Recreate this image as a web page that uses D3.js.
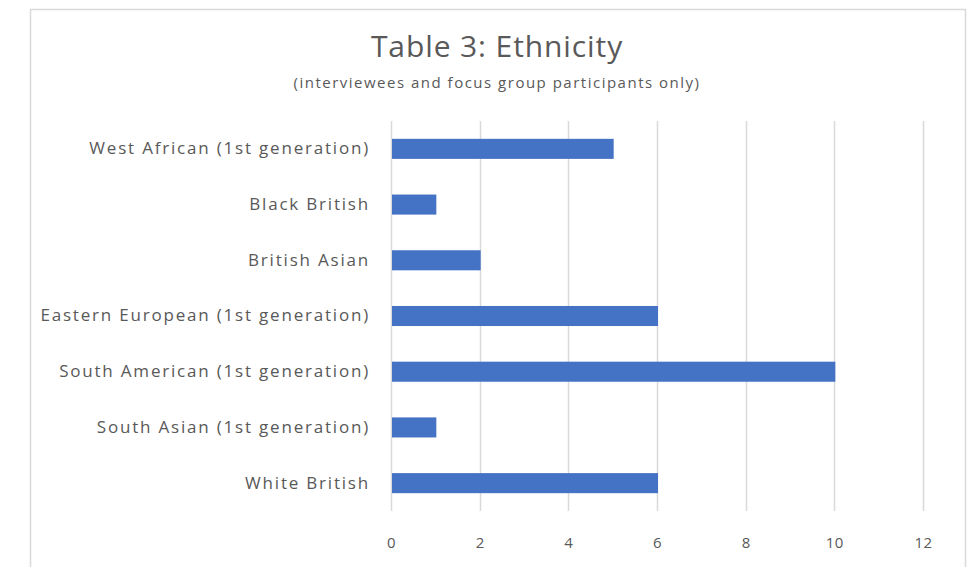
<!DOCTYPE html>
<html>
<head>
<meta charset="utf-8">
<script src="https://cdn.jsdelivr.net/npm/d3@7"></script>
<style>
	body { margin: 0; background: #fff; }
	.axis path, .axis line { display: none; }
</style>
</head>
<body>
<div class="bar-chart"></div>
<script>
// Data.
var categories = [
	'West African (1st generation)',
	'Black British',
	'British Asian',
	'Eastern European (1st generation)',
	'South American (1st generation)',
	'South Asian (1st generation)',
	'White British'
];
var counts = [5, 1, 2, 6, 10, 1, 6];
var xTicks = [0, 2, 4, 6, 8, 10, 12];

var textColor = '#595959',
	barColor = '#4472c4',
	gridColor = '#d9d9d9',
	fontFamily = '"Open Sans", Lato, sans-serif';

var margin = {top: 121, left: 391, bottom: 56, right: 53};
var totalWidth = 976, totalHeight = 567;
var width = totalWidth - margin.left - margin.right;
var height = totalHeight - margin.top - margin.bottom;

var svg = d3.select('.bar-chart').append('svg')
	.attr('width', totalWidth)
	.attr('height', totalHeight)
	.attr('font-family', fontFamily)
	.attr('fill', textColor);

// Chart frame (bottom edge falls outside the picture).
svg.append('rect')
	.attr('x', 30.5)
	.attr('y', 9.5)
	.attr('width', 935)
	.attr('height', 580)
	.attr('fill', '#fff')
	.attr('stroke', gridColor)
	.attr('stroke-width', 1.5);

svg.append('text')
	.attr('x', 497)
	.attr('y', 57)
	.attr('text-anchor', 'middle')
	.attr('font-size', '30px')
	.attr('letter-spacing', '0.9px')
	.attr('fill', textColor)
	.text('Table 3: Ethnicity');

svg.append('text')
	.attr('x', 497)
	.attr('y', 88)
	.attr('text-anchor', 'middle')
	.attr('font-size', '15px')
	.attr('letter-spacing', '1.5px')
	.attr('fill', textColor)
	.text('(interviewees and focus group participants only)');

var g = svg.append('g')
	.attr('transform', 'translate(' + margin.left + ',' + margin.top + ')');

var x = d3.scaleLinear().domain([0, 12]).range([0, width]);
var y = d3.scaleBand().domain(categories).range([0, height]).paddingInner(0.64).paddingOuter(0.32);

// Vertical gridlines, including the one at 0 that doubles as the axis line.
g.selectAll('.grid')
	.data(xTicks)
	.enter().append('line')
	.attr('class', 'grid')
	.attr('x1', function(d) { return Math.round(x(d)) + 0.5; })
	.attr('x2', function(d) { return Math.round(x(d)) + 0.5; })
	.attr('y1', 0)
	.attr('y2', height)
	.attr('stroke', gridColor)
	.attr('stroke-width', 1.5);

g.selectAll('.bar')
	.data(categories)
	.enter().append('rect')
	.attr('class', 'bar')
	.attr('x', x(0) + 1)
	.attr('y', function(d) { return y(d); })
	.attr('width', function(d, i) { return x(counts[i]) - x(0); })
	.attr('height', y.bandwidth())
	.attr('fill', barColor);

g.append('g')
	.attr('class', 'axis')
	.attr('transform', 'translate(0,' + (height + 18) + ')')
	.call(d3.axisBottom(x).tickValues(xTicks).tickSize(0).tickPadding(8))
	.selectAll('text')
		.attr('font-family', fontFamily)
		.attr('font-size', '15px')
		.attr('letter-spacing', '0.5px')
		.attr('fill', textColor);

g.append('g')
	.attr('class', 'axis')
	.call(d3.axisLeft(y).tickSize(0).tickPadding(21))
	.selectAll('text')
		.attr('font-family', fontFamily)
		.attr('font-size', '17px')
		.attr('letter-spacing', '1.8px')
		.attr('fill', textColor);
</script>
</body>
</html>
